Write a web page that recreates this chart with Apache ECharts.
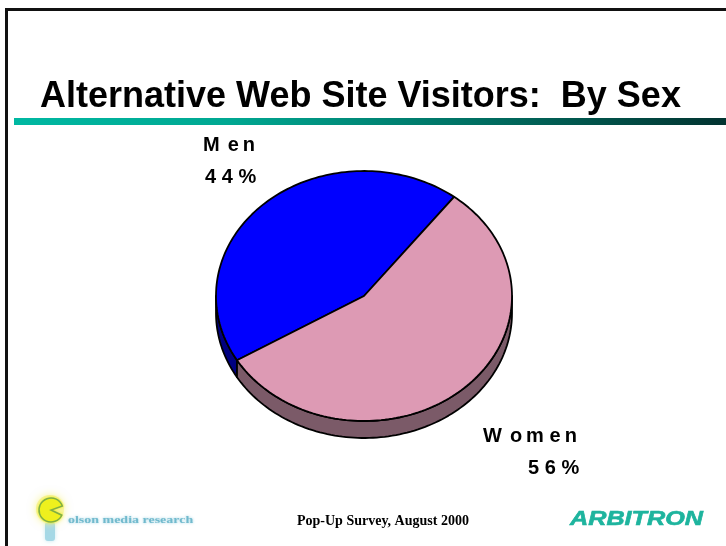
<!DOCTYPE html>
<html>
<head>
<meta charset="utf-8">
<style>html,body{margin:0;padding:0;background:#fff}#chart{width:726px;height:546px}</style>
<script src="https://cdn.jsdelivr.net/npm/echarts@6/dist/echarts.min.js"></script>
</head>
<body>
<div id="chart"></div>
<script>
// Survey shares by visitor sex
const categories = ['Men', 'Women'];
const shareValues = [44, 56];

// Label wording, spaced the way the slide sets it
const sliceLabels = ['M\u2009\u2009e\u2009n', 'W\u2009\u2009o\u2009m\u2009\u200Ae\u2009n'];
const percentGap = '\u2009\u200A';

// Tilted pie geometry
const PIE = { cx: 364, cy: 296, rx: 148, ry: 125, depth: 17, startDeg: 52.5 };
const sliceColors = ['#0000ff', '#dd9ab4'];
const wallColors = ['#000080', '#7b5a68'];

const total = shareValues.reduce((a, b) => a + b, 0);

function rimPoint(deg, dy) {
  const r = deg * Math.PI / 180;
  return [PIE.cx + PIE.rx * Math.cos(r), PIE.cy - PIE.ry * Math.sin(r) + dy];
}
function arc(from, to, dy) {
  const pts = [];
  const n = Math.max(2, Math.ceil(Math.abs(to - from) / 1.5));
  for (let i = 0; i <= n; i++) pts.push(rimPoint(from + (to - from) * i / n, dy));
  return pts;
}
function spacedPercent(v) {
  return String(v).split('').join(percentGap) + percentGap + '%';
}

function renderSlice(params, api) {
  const i = params.dataIndex;
  const before = shareValues.slice(0, i).reduce((a, b) => a + b, 0);
  const a0 = PIE.startDeg + before / total * 360;
  const a1 = a0 + api.value(0) / total * 360;
  const children = [];
  // Visible wall: the part of the rim on the near half of the ellipse
  const w0 = Math.max(a0, 180), w1 = Math.min(a1, 360);
  if (w1 > w0) {
    children.push({
      type: 'polygon',
      shape: { points: arc(w0, w1, 0).concat(arc(w1, w0, PIE.depth)) },
      style: { fill: wallColors[i], stroke: '#000', lineWidth: 1.8, lineJoin: 'round' }
    });
  }
  children.push({
    type: 'polygon',
    z2: 5,
    shape: { points: [[PIE.cx, PIE.cy]].concat(arc(a0, a1, 0)) },
    style: { fill: sliceColors[i], stroke: '#000', lineWidth: 1.8, lineJoin: 'round' }
  });
  return { type: 'group', children };
}

const chart = echarts.init(document.getElementById('chart'), null, { renderer: 'canvas' });
const labelFont = { fontFamily: 'Liberation Sans', fontWeight: 'bold', fontSize: 20, fill: '#000' };

chart.setOption({
  animation: false,
  backgroundColor: '#fff',
  series: [{
    type: 'custom',
    coordinateSystem: 'none',
    silent: true,
    data: categories.map((name, i) => ({ name, value: [shareValues[i]] })),
    renderItem: renderSlice
  }],
  graphic: [
    // Slide frame: left and top rules only
    { type: 'rect', shape: { x: 5, y: 8, width: 721, height: 3 }, style: { fill: '#111' } },
    { type: 'rect', shape: { x: 5, y: 8, width: 3, height: 538 }, style: { fill: '#111' } },
    // Title and gradient rule
    { type: 'text', x: 40, y: 79, style: { text: 'Alternative Web Site Visitors:  By Sex', fontFamily: 'Liberation Sans', fontWeight: 'bold', fontSize: 36, fill: '#000' } },
    { type: 'rect', shape: { x: 14, y: 118, width: 712, height: 7 }, style: { fill: new echarts.graphic.LinearGradient(0, 0, 1, 0, [
      { offset: 0, color: '#00b8a2' }, { offset: 0.3, color: '#00a892' }, { offset: 0.65, color: '#006f62' }, { offset: 1, color: '#023330' }
    ]) } },
    // Slice labels
    { type: 'text', x: 203, y: 135, style: Object.assign({ text: sliceLabels[0] }, labelFont) },
    { type: 'text', x: 205, y: 167, style: Object.assign({ text: spacedPercent(shareValues[0]) }, labelFont) },
    { type: 'text', x: 483, y: 426, style: Object.assign({ text: sliceLabels[1] }, labelFont) },
    { type: 'text', x: 528, y: 458, style: Object.assign({ text: spacedPercent(shareValues[1]) }, labelFont) },
    // Footer source line
    { type: 'text', x: 297, y: 514, style: { text: 'Pop-Up Survey, August 2000', fontFamily: 'Liberation Serif', fontWeight: 'bold', fontSize: 14, fill: '#000' } },
    // Olson logo: bulb stem, glow, yellow head and soft wordmark
    { type: 'rect', shape: { x: 45, y: 522, width: 10, height: 19, r: 3 }, style: { fill: '#a5d8e6', shadowBlur: 4, shadowColor: '#c5e8f1' } },
    { type: 'circle', shape: { cx: 50, cy: 509, r: 14 }, style: { fill: '#f8f49a', shadowBlur: 8, shadowColor: '#f8f49a' } },
    { type: 'sector', shape: { cx: 51, cy: 510, r: 12, startAngle: 0.45, endAngle: 5.95 }, style: { fill: '#eef01e', stroke: '#7fae45', lineWidth: 1.5, shadowBlur: 3, shadowColor: '#eef01e' } },
    { type: 'text', x: 68, y: 515, scaleX: 1.33, style: { text: 'olson media research', fontFamily: 'Liberation Serif', fontWeight: 'bold', fontSize: 10.5, fill: '#5aaec4', textShadowBlur: 3, textShadowColor: '#7cc4d8', opacity: 0.8 } },
    // Arbitron logo
    { type: 'text', x: 570, y: 509, scaleX: 1.26, style: { text: 'ARBITRON', fontFamily: 'Liberation Sans', fontStyle: 'italic', fontWeight: 'bold', fontSize: 20, fill: '#1eb49e', stroke: '#1eb49e', lineWidth: 0.6 } }
  ]
});
</script>
</body>
</html>
